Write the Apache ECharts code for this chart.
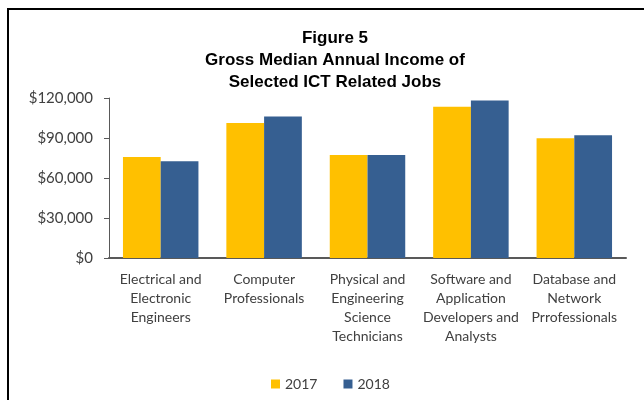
<!DOCTYPE html>
<html>
<head>
<meta charset="utf-8">
<script src="https://cdn.jsdelivr.net/npm/echarts@6/dist/echarts.min.js"></script>
<style>
html,body{margin:0;padding:0;background:#fff;}
#chart{width:644px;height:400px;}
</style>
</head>
<body>
<div id="chart"></div>
<script>
const categories = [
  "Electrical and\nElectronic\nEngineers",
  "Computer\nProfessionals",
  "Physical and\nEngineering\nScience\nTechnicians",
  "Software and\nApplication\nDevelopers and\nAnalysts",
  "Database and\nNetwork\nPrrofessionals"
];
const values2017 = [75800, 101200, 77300, 113500, 89900];
const values2018 = [72600, 106200, 77300, 118200, 92100];
const yTicks = { min: 0, max: 120000, interval: 30000 };
const seriesNames = ["2017", "2018"];

const chart = echarts.init(document.getElementById('chart'));
const labelFont = 'Lato, "Open Sans", sans-serif';
chart.setOption({
  animation: false,
  backgroundColor: '#fff',
  title: {
    text: 'Figure 5\nGross Median Annual Income of\nSelected ICT Related Jobs',
    left: 330,
    top: 22,
    textAlign: 'center',
    textStyle: {
      fontFamily: '"Liberation Sans", Arial, sans-serif',
      fontWeight: 'bold',
      fontSize: 17,
      lineHeight: 22,
      color: '#000'
    }
  },
  graphic: [{
    type: 'rect',
    shape: { x: 8, y: 9, width: 700, height: 500 },
    style: { fill: 'none', stroke: '#000', lineWidth: 2 },
    silent: true
  }],
  legend: {
    data: seriesNames,
    left: 266,
    top: 372,
    itemWidth: 9,
    itemHeight: 9,
    itemGap: 26,
    icon: 'rect',
    textStyle: { fontFamily: labelFont, fontSize: 14, color: '#404040' }
  },
  grid: { left: 109, right: 18, top: 98, bottom: 142 },
  xAxis: {
    type: 'category',
    data: categories,
    axisLine: { lineStyle: { color: '#595959', width: 2 } },
    axisTick: { show: false },
    axisLabel: {
      interval: 0,
      margin: 12,
      fontFamily: labelFont,
      fontSize: 14,
      lineHeight: 19,
      color: '#404040'
    }
  },
  yAxis: {
    type: 'value',
    min: yTicks.min,
    max: yTicks.max,
    interval: yTicks.interval,
    splitLine: { show: false },
    axisLine: { show: true, lineStyle: { color: '#595959', width: 1 } },
    axisTick: { show: true, length: 5, lineStyle: { color: '#595959' } },
    axisLabel: {
      margin: 16,
      fontFamily: labelFont,
      fontSize: 15,
      color: '#404040',
      formatter: v => '$' + v.toLocaleString('en-US')
    }
  },
  series: [
    { name: seriesNames[0], type: 'bar', data: values2017, itemStyle: { color: '#FFC000' }, barGap: '0%', barCategoryGap: '27%' },
    { name: seriesNames[1], type: 'bar', data: values2018, itemStyle: { color: '#365F91' }, barGap: '0%', barCategoryGap: '27%' }
  ]
});
</script>
</body>
</html>
